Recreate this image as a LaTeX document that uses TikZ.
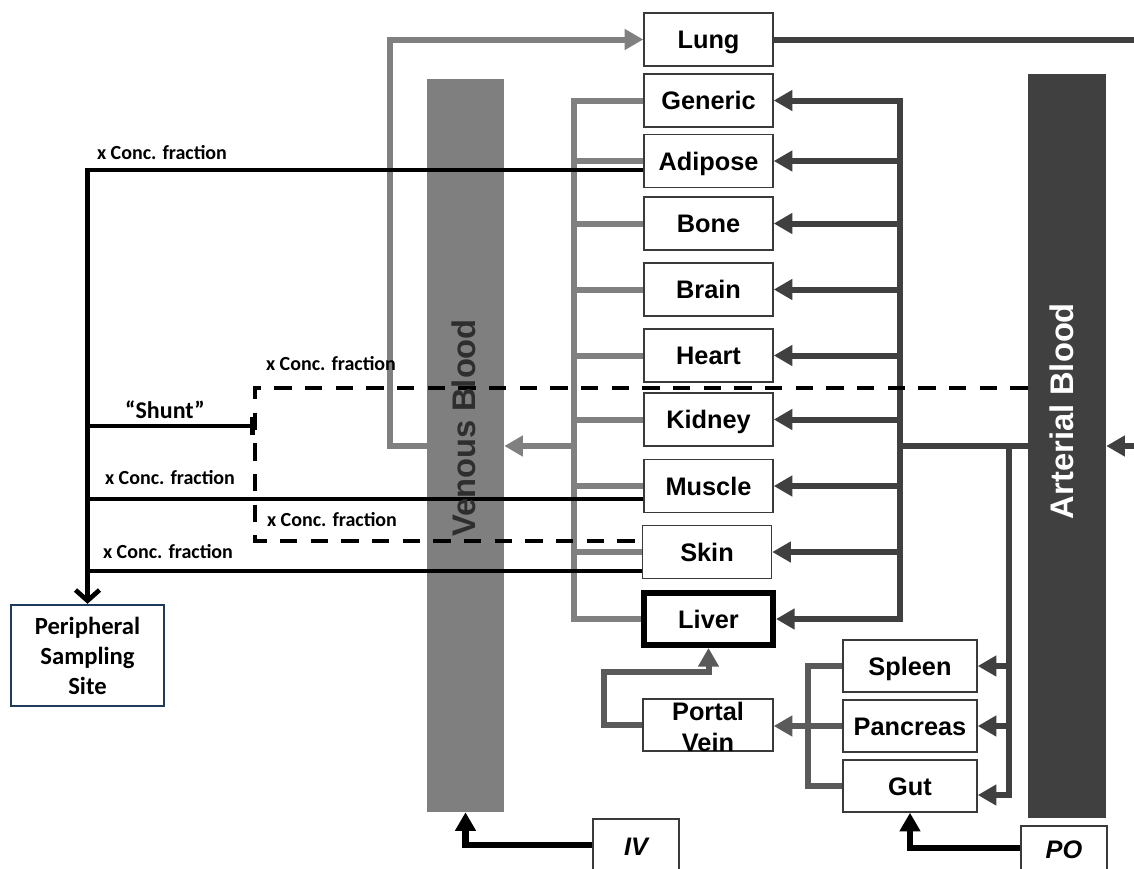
\documentclass[tikz,border=0pt]{standalone}
\usepackage{fontspec}
\setmainfont{Liberation Sans}
\newfontfamily\calib{Carlito}
\usetikzlibrary{arrows.meta}
\definecolor{venc}{HTML}{7F7F7F}
\definecolor{artc}{HTML}{404040}
\definecolor{lgc}{HTML}{808080}
\definecolor{pgc}{HTML}{5A5A5A}
\definecolor{boxc}{HTML}{3A3A3A}
\definecolor{navy}{HTML}{1F3B5C}
\definecolor{vtxt}{HTML}{2E2E2E}
\begin{document}
\begin{tikzpicture}[x=0.75pt,y=-0.75pt,
  organ/.style={draw=boxc, line width=1.1pt, fill=white, minimum width=96.75pt, minimum height=39.75pt, inner sep=0pt, text height=13.6pt, text depth=0pt, font=\fontsize{19}{22}\selectfont\bfseries},
  periph/.style={draw=navy, line width=1.8pt, fill=white, minimum width=114.75pt, minimum height=75.75pt, inner sep=0pt, align=center, font=\calib\fontsize{18.5}{22.5}\selectfont\bfseries},
  venbar/.style={fill=venc, minimum width=57.75pt, minimum height=549.75pt, inner sep=0pt},
  artbar/.style={fill=artc, minimum width=58.5pt, minimum height=558pt, inner sep=0pt},
  lab/.style={font=\calib\fontsize{15}{18}\selectfont\bfseries, inner sep=0pt},
  shuntlab/.style={font=\calib\fontsize{18}{21}\selectfont\bfseries, inner sep=0pt},
  bartxt/.style={rotate=90, font=\fontsize{24.5}{28}\selectfont\bfseries, inner sep=0pt},
  arr/.style={-{Triangle[length=14pt,width=15pt]}},
  barb/.style={-{Straight Barb[length=8pt,width=18pt]}},
  lgline/.style={draw=lgc, line width=4.5pt},
  aline/.style={draw=artc, line width=4.5pt},
  pline/.style={draw=pgc, line width=4.5pt},
  bline/.style={draw=black, line width=3.5pt},
  dline/.style={draw=black, line width=3.2pt, dash pattern=on 13pt off 10pt},
  ivline/.style={draw=black, line width=5pt}
]
\clip (0,0) rectangle (1134,868);
\fill[white] (0,0) rectangle (1134,868);
% blood bars
\node[venbar] (venous) at (465.5,445.5) {};
\node[artbar] (arterial) at (1067,446) {};
% organs
\node[organ] (Lung) at (708.5,39.5) {Lung};
\node[organ] (Generic) at (708.5,100.5) {Generic};
\node[organ] (Adipose) at (708.5,161) {Adipose};
\node[organ] (Bone) at (708.5,223.5) {Bone};
\node[organ] (Brain) at (708.5,289.5) {Brain};
\node[organ] (Heart) at (708.5,355.5) {Heart};
\node[organ] (Kidney) at (708.5,419.5) {Kidney};
\node[organ] (Muscle) at (708.5,486) {Muscle};
\node[organ] (Skin) at (707,552) {Skin};
\node[organ, draw=black, line width=4.5pt, minimum height=39pt] (Liver) at (708.5,619) {Liver};
\node[organ, minimum width=97.5pt, minimum height=39pt] (Portal) at (708,725) {};
\node[align=center, inner sep=0pt, font=\fontsize{19}{23}\selectfont\bfseries] (portaltxt) at (708,727) {Portal\\Vein};
\node[organ, minimum width=100.5pt, minimum height=39pt] (Spleen) at (910,666) {Spleen};
\node[organ, minimum width=100.5pt, minimum height=39pt] (Pancreas) at (910,726) {Pancreas};
\node[organ, minimum width=100.5pt, minimum height=39pt] (Gut) at (910,786) {Gut};
\node[organ, minimum width=64.5pt, minimum height=40.5pt, font=\fontsize{19}{22}\selectfont\bfseries\itshape] (IV) at (636,846) {IV};
\node[organ, minimum width=64.5pt, minimum height=34.5pt, font=\fontsize{19}{22}\selectfont\bfseries\itshape] (PO) at (1064,849) {PO};
\node[periph] (Peripheral) at (87.5,655.5) {Peripheral\\Sampling\\Site};
% coordinates
\coordinate (colx) at (574,0);
\coordinate (vy) at (0,446);
\coordinate (loopx) at (390,0);
\coordinate (ax) at (900,0);
\coordinate (ax2) at (1009,0);
\coordinate (gy) at (0,795);
\coordinate (spx) at (808,0);
\coordinate (pvx) at (604,0);
\coordinate (pvy) at (0,672);
\coordinate (ivy) at (0,845);
\coordinate (poy) at (0,848);
\coordinate (kx) at (87.5,0);
\coordinate (ady) at (0,170);
\coordinate (muy) at (0,499);
\coordinate (sky) at (0,571);
\coordinate (shy) at (0,426);
\coordinate (dx) at (255,0);
\coordinate (dty) at (0,388);
\coordinate (dby) at (0,541);
\coordinate (lungend) at (1145,39.5);
\coordinate (artin) at (1145,446);
% venous return (light gray)
\draw[lgline] (Generic.west) -| (colx |- Liver.west) -- (Liver.west);
\foreach \o in {Adipose,Bone,Brain,Heart,Kidney,Muscle,Skin}
  \draw[lgline] (\o.west) -- (colx |- \o.west);
\draw[lgline, arr] (colx |- vy) -- (venous.east |- vy);
\draw[lgline, arr] (venous.west |- vy) -| (loopx |- Lung.west) -- (Lung.west);
% arterial supply (dark gray)
\draw[aline] (Lung.east) -- (lungend);
\draw[aline] (arterial.west |- vy) -- (ax |- vy);
\draw[aline, line cap=rect] (ax |- Generic.east) -- (ax |- Liver.east);
\foreach \o in {Generic,Adipose,Bone,Brain,Heart,Kidney,Muscle,Skin,Liver}
  \draw[aline, arr] (ax |- \o.east) -- (\o.east);
\draw[aline, line cap=rect] (ax2 |- vy) -- (ax2 |- gy);
\foreach \o in {Spleen,Pancreas}
  \draw[aline, arr] (ax2 |- \o.east) -- (\o.east);
\draw[aline, arr] (ax2 |- gy) -- (Gut.east |- gy);
\draw[aline, arr] (artin) -- (arterial.east |- vy);
% portal system
\draw[pline] (Spleen.west) -| (spx |- Gut.west) -- (Gut.west);
\draw[pline, arr] (Pancreas.west) -- (Portal.east |- Pancreas.west);
\draw[pline, arr] (Portal.west) -| (pvx |- pvy) -| (Liver.south);
% sampling lines (black)
\draw[bline, barb] (Adipose.west |- ady) -| (Peripheral.north);
\draw[bline] (Muscle.west |- muy) -- (kx |- muy);
\draw[bline] (Skin.west |- sky) -- (kx |- sky);
\draw[bline, -{Bar[width=13pt]}] (kx |- shy) -- (dx |- shy);
\draw[dline] (arterial.west |- dty) -| (dx |- dby) -- (Skin.west |- dby);
\draw[ivline, arr] (IV.west |- ivy) -| (venous.south);
\draw[ivline, arr] (PO.west |- poy) -| (Gut.south);
% labels
\node[lab] (l1) at (162,153) {x Conc. fraction};
\node[lab] (l2) at (331,364) {x Conc. fraction};
\node[lab] (l3) at (170,478) {x Conc. fraction};
\node[lab] (l4) at (332,520) {x Conc. fraction};
\node[lab] (l5) at (168,552) {x Conc. fraction};
\node[shuntlab] (shunt) at (165,410) {“Shunt”};
\node[bartxt, text=vtxt] (ventxt) at (464,428) {Venous Blood};
\node[bartxt, text=white] (arttxt) at (1062,411) {Arterial Blood};
\end{tikzpicture}
\end{document}
